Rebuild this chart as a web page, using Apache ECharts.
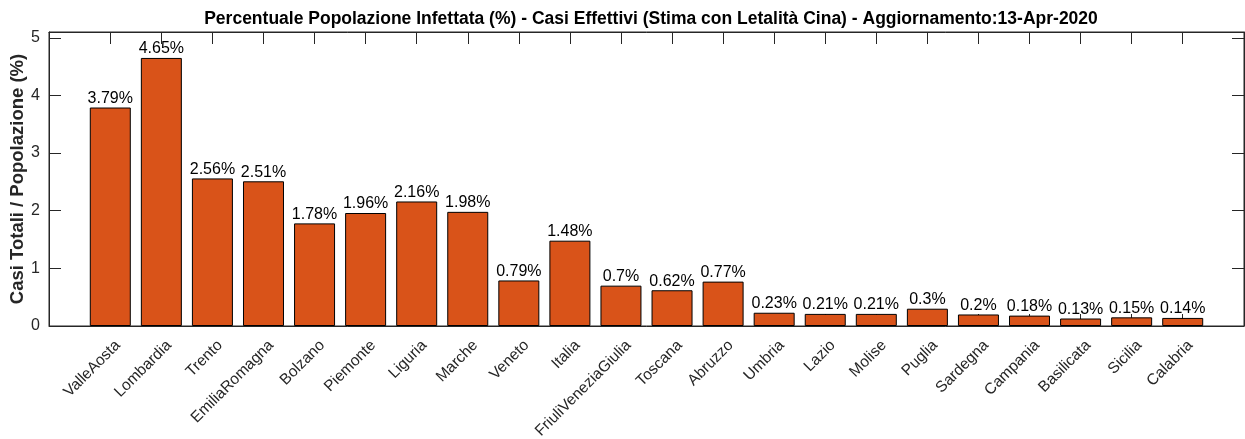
<!DOCTYPE html>
<html>
<head>
<meta charset="utf-8">
<script src="https://cdn.jsdelivr.net/npm/echarts@6/dist/echarts.min.js"></script>
<style>
  html, body { margin: 0; padding: 0; background: #fff; }
  #chart { width: 1245px; height: 439px; }
</style>
</head>
<body>
<div id="chart"></div>
<script>
const regioni = ['ValleAosta', 'Lombardia', 'Trento', 'EmiliaRomagna', 'Bolzano', 'Piemonte', 'Liguria',
  'Marche', 'Veneto', 'Italia', 'FriuliVeneziaGiulia', 'Toscana', 'Abruzzo', 'Umbria', 'Lazio', 'Molise',
  'Puglia', 'Sardegna', 'Campania', 'Basilicata', 'Sicilia', 'Calabria']
const percentuali = [3.79, 4.65, 2.56, 2.51, 1.78, 1.96, 2.16, 1.98, 0.79, 1.48, 0.7, 0.62, 0.77, 0.23,
  0.21, 0.21, 0.3, 0.2, 0.18, 0.13, 0.15, 0.14]
const etichette = ['3.79%', '4.65%', '2.56%', '2.51%', '1.78%', '1.96%', '2.16%', '1.98%', '0.79%', '1.48%',
  '0.7%', '0.62%', '0.77%', '0.23%', '0.21%', '0.21%', '0.3%', '0.2%', '0.18%', '0.13%', '0.15%', '0.14%']
const yTicks = [0, 1, 2, 3, 4, 5]

const posizioni = regioni.map((_, i) => i + 1)
// le etichette ruotate di MATLAB sono ancorate all'angolo in alto a destra
const posEtichette = posizioni.map((p) => p + 0.15)
const axisColor = '#262626'
const font = 'Liberation Sans, Arial, Helvetica, sans-serif'

const chart = echarts.init(document.getElementById('chart'))

const option = {
  animation: false,
  title: {
    text: 'Percentuale Popolazione Infettata (%) - Casi Effettivi (Stima con Letalità Cina) - Aggiornamento:13-Apr-2020',
    left: 646,
    textAlign: 'center',
    top: 5,
    textStyle: { fontFamily: font, fontSize: 17.5, fontWeight: 'bold', color: '#000' },
  },
  grid: {
    left: 49,
    right: 1,
    top: 32,
    bottom: 113,
    outerBoundsMode: 'none',
    containLabel: false,
    show: true,
    borderColor: axisColor,
    borderWidth: 1,
    backgroundColor: '#fff',
  },
  xAxis: [
    {
      type: 'value',
      min: -0.2,
      max: 23.2,
      splitLine: { show: false },
      axisLine: { show: true, onZero: false, lineStyle: { color: axisColor } },
      axisTick: { show: true, inside: true, length: 12, customValues: posizioni, lineStyle: { color: axisColor } },
      axisLabel: {
        show: true,
        customValues: posEtichette,
        rotate: 45,
        margin: 17,
        color: axisColor,
        fontFamily: font,
        fontSize: 15.5,
        formatter: (v) => regioni[Math.round(v) - 1] || '',
      },
    },
    {
      type: 'value',
      position: 'top',
      min: -0.2,
      max: 23.2,
      splitLine: { show: false },
      axisLine: { show: true, onZero: false, lineStyle: { color: axisColor } },
      axisTick: { show: true, inside: true, length: 12, customValues: posizioni, lineStyle: { color: axisColor } },
      axisLabel: { show: false },
    },
  ],
  yAxis: [
    {
      type: 'value',
      min: 0,
      max: 5.1,
      interval: 1,
      name: 'Casi Totali / Popolazione (%)',
      nameLocation: 'middle',
      nameGap: 22,
      nameMoveOverlap: false,
      nameRotate: 90,
      nameTextStyle: { fontFamily: font, fontSize: 18.5, fontWeight: 'bold', color: axisColor },
      splitLine: { show: false },
      axisLine: { show: true, onZero: false, lineStyle: { color: axisColor } },
      axisTick: { show: true, inside: true, length: 12, customValues: yTicks, lineStyle: { color: axisColor } },
      axisLabel: {
        color: axisColor,
        fontFamily: font,
        fontSize: 16,
        margin: 9,
        customValues: yTicks,
      },
    },
    {
      type: 'value',
      position: 'right',
      min: 0,
      max: 5.1,
      interval: 1,
      splitLine: { show: false },
      axisLine: { show: true, onZero: false, lineStyle: { color: axisColor } },
      axisTick: { show: true, inside: true, length: 12, customValues: yTicks, lineStyle: { color: axisColor } },
      axisLabel: { show: false },
    },
  ],
  series: [
    {
      type: 'bar',
      xAxisIndex: 0,
      yAxisIndex: 0,
      barWidth: 41,
      data: percentuali.map((v, i) => [posizioni[i], v]),
      itemStyle: { color: '#D95319', borderColor: '#000', borderWidth: 1 },
      label: {
        show: true,
        position: 'top',
        distance: 1,
        color: '#000',
        fontFamily: font,
        fontSize: 16,
        formatter: (p) => etichette[p.dataIndex],
      },
      z: 1,
    },
  ],
}

chart.setOption(option)
</script>
</body>
</html>
